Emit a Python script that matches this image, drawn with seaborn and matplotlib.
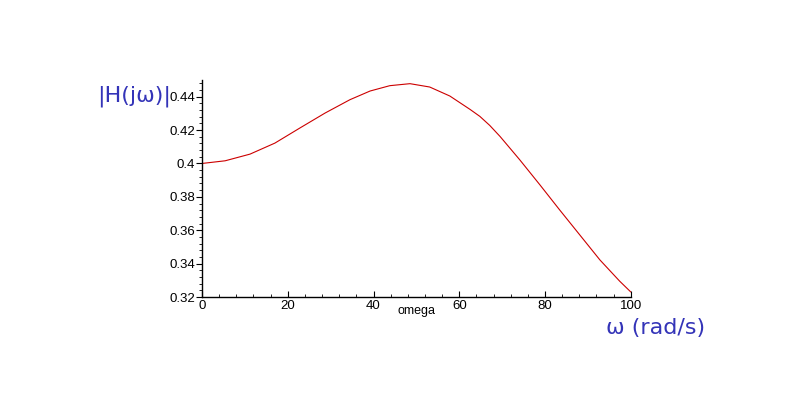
import numpy as np
import pandas as pd
import matplotlib
matplotlib.use("Agg")
import matplotlib.pyplot as plt
import seaborn as sns
from matplotlib.ticker import MultipleLocator, FormatStrFormatter

# values
omega = [0, 5.4, 11.2, 17.0, 22.8, 28.7, 34.5, 39.2, 43.8, 48.5, 53.1, 57.8,
         62.5, 64.8, 67.1, 69.5, 74.1, 78.8, 83.4, 88.1, 92.8, 97.4, 100]
mag = [0.400, 0.4016, 0.4056, 0.4122, 0.4212, 0.4302, 0.4382, 0.4434, 0.4466,
       0.4478, 0.4458, 0.4404, 0.4324, 0.4282, 0.4228, 0.4162, 0.4022, 0.3872,
       0.3722, 0.3572, 0.3422, 0.3295, 0.3230]

x_ticks = [0, 20, 40, 60, 80, 100]
y_ticks = [0.32, 0.34, 0.36, 0.38, 0.40, 0.42, 0.44]

df = pd.DataFrame({"omega": omega, "H": mag})

sns.set_style("ticks")
plt.rcParams["font.family"] = ["Liberation Sans", "DejaVu Sans"]
plt.rcParams["text.color"] = "black"
plt.rcParams["xtick.color"] = "black"
plt.rcParams["ytick.color"] = "black"
plt.rcParams["axes.labelcolor"] = "black"

fig = plt.figure(figsize=(8, 4), dpi=100)
ax = fig.add_axes([0.2525, 0.2575, 0.536, 0.5425])

sns.lineplot(data=df, x="omega", y="H", ax=ax, color="#cc0000", linewidth=0.8)

ax.set_xlim(0, 100)
ax.set_ylim(0.32, 0.45)
ax.set_xticks(x_ticks)
ax.set_yticks(y_ticks)
ax.xaxis.set_minor_locator(MultipleLocator(4))
ax.yaxis.set_minor_locator(MultipleLocator(0.004))
ax.yaxis.set_major_formatter(FormatStrFormatter("%g"))

sns.despine(ax=ax)
for s in ["left", "bottom"]:
    ax.spines[s].set_linewidth(1.0)
    ax.spines[s].set_color("black")

ax.tick_params(axis="y", which="major", direction="out", length=4, width=0.8, labelsize=9.5, pad=1)
ax.tick_params(axis="y", which="minor", direction="out", length=2, width=0.6)
ax.tick_params(axis="x", which="major", direction="in", length=4, width=0.8, labelsize=9.5, pad=2)
ax.tick_params(axis="x", which="minor", direction="in", length=2, width=0.6)

ax.set_xlabel("omega", fontsize=9)
ax.xaxis.set_label_coords(0.5, -0.035)
ax.set_ylabel("")

# handwritten-style annotations
fig.text(0.122, 0.76, "|H(jω)|", color="#3434b8", fontsize=16, ha="left", va="center",
         family=["DejaVu Sans"])
fig.text(0.758, 0.18, "ω (rad/s)", color="#3434b8", fontsize=16, ha="left", va="center",
         family=["DejaVu Sans"])

fig.savefig("out.png", dpi=100, facecolor="white")
